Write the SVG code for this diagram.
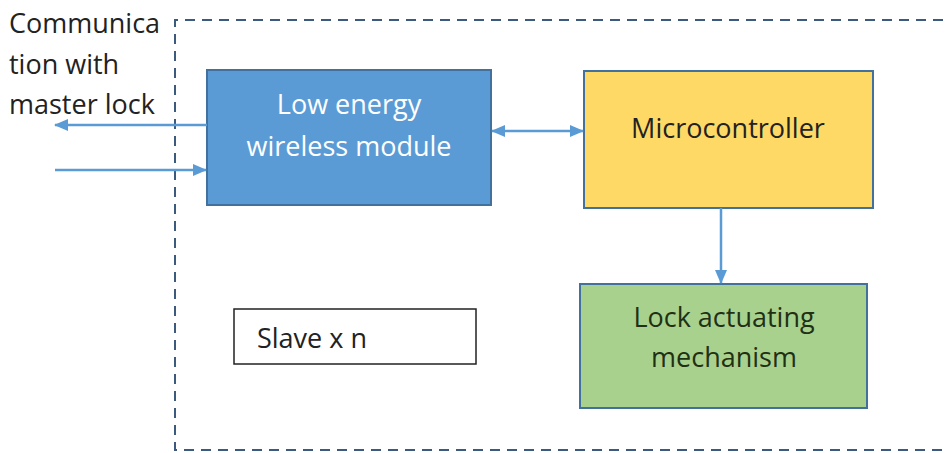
<svg xmlns="http://www.w3.org/2000/svg" width="945" height="453" viewBox="0 0 945 453">
<defs>
<marker id="ah" markerWidth="14" markerHeight="14" refX="13" refY="7" orient="auto-start-reverse" markerUnits="userSpaceOnUse"><path d="M0,1 L14,7 L0,13 z" fill="#5B9BD5"/></marker>
<style>
text{font-family:"Open Sans","Liberation Sans",sans-serif;font-size:27px}
.box{stroke:#41719C;stroke-width:2}
.conn{stroke:#5B9BD5;stroke-width:2.5;fill:none}
</style>
</defs>
<rect width="945" height="453" fill="#fff"/>
<g id="boundary"><path d="M960,20 H175 V450 H960" fill="none" stroke="#3A5A7E" stroke-width="2" stroke-dasharray="10,7"/></g>
<g id="label"><text x="9" y="33" fill="#222">Communica</text><text x="9" y="74" fill="#222">tion with</text><text x="9" y="114" fill="#222">master lock</text></g>
<g id="wireless"><rect class="box" x="207" y="70" width="284" height="135" fill="#5B9BD5"/><text x="349" y="114" fill="#fff" text-anchor="middle">Low energy</text><text x="349" y="156" fill="#fff" text-anchor="middle">wireless module</text></g>
<g id="micro"><rect class="box" x="584" y="71" width="289" height="137" fill="#FFD966"/><text x="728" y="138" fill="#222" text-anchor="middle">Microcontroller</text></g>
<g id="lock"><rect class="box" x="580" y="284" width="287" height="124" fill="#A9D18E"/><text x="724" y="327" fill="#1F3014" text-anchor="middle">Lock actuating</text><text x="724" y="367" fill="#1F3014" text-anchor="middle">mechanism</text></g>
<g id="slave"><rect x="234" y="309" width="242" height="55" fill="#fff" stroke="#222" stroke-width="1.5"/><text x="257" y="348" fill="#222">Slave x n</text></g>
<g id="connectors">
<line class="conn" x1="207" y1="125" x2="55" y2="125" marker-end="url(#ah)"/>
<line class="conn" x1="55" y1="170" x2="206" y2="170" marker-end="url(#ah)"/>
<line class="conn" x1="492" y1="131" x2="583" y2="131" marker-start="url(#ah)" marker-end="url(#ah)"/>
<line class="conn" x1="721" y1="208" x2="721" y2="283" marker-end="url(#ah)"/>
</g>
</svg>
